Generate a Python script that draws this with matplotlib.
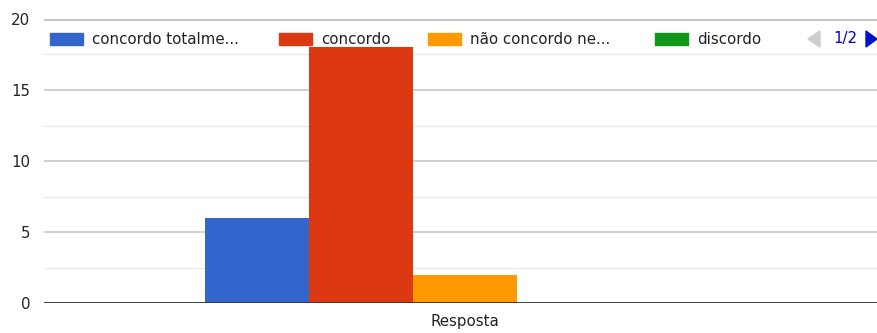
import matplotlib.pyplot as plt
from matplotlib.patches import Rectangle, Polygon

# answer counts per option (single category "Resposta")
categories = ["Resposta"]
series = ["concordo totalme...", "concordo", "não concordo ne...", "discordo", "discordo totalmente"]
counts = [6, 18, 2, 0, 0]
colors = ["#3366cc", "#dc3912", "#ff9900", "#109618", "#990099"]
yticks = [0, 5, 10, 15, 20]

plt.rcParams['font.family'] = ['DejaVu Sans']
FS = 10.8
TXT = "#222222"

fig = plt.figure(figsize=(8.77, 3.33), dpi=100)
W, H = 877, 333
ax = fig.add_axes([44 / W, 30 / H, 842 / W, 284 / H])

bw = 0.1233
n = len(series)
for i, (val, col) in enumerate(zip(counts, colors)):
    x = (i - (n - 1) / 2) * bw
    ax.bar(x, val, width=bw, color=col, zorder=3, linewidth=0)

ax.set_xlim(-0.5, 0.5)
ax.set_ylim(0, 20)
ax.set_xticks([0])
ax.set_xticklabels(categories, fontsize=FS, color=TXT)
ax.set_yticks(yticks)
ax.set_yticklabels([str(t) for t in yticks], fontsize=FS, color=TXT)
ax.tick_params(length=0)
ax.tick_params(axis='y', pad=10)
ax.tick_params(axis='x', pad=8)

# major and minor grid lines
for t in yticks[1:]:
    ax.axhline(t, color="#c8c8c8", lw=2.2 if t == 20 else 1.2, zorder=1)
for t in [2.5, 7.5, 12.5, 17.5]:
    ax.axhline(t, color="#e8e8e8", lw=1.0, zorder=1)
ax.axhline(0, color="#333333", lw=2.0, zorder=4)
for s in ax.spines.values():
    s.set_visible(False)

# legend row, first page only
leg_y = 1 - 39 / H
patch_x = [50, 279, 428, 655]
for name, col, px in zip(series[:4], colors[:4], patch_x):
    fig.patches.append(Rectangle((px / W, (H - 45) / H), 33 / W, 12 / H,
                                 transform=fig.transFigure, color=col))
    fig.text((px + 42) / W, leg_y, name, fontsize=FS, color=TXT,
             va="center", ha="left")

# pager arrows
fig.patches.append(Polygon([(820 / W, (H - 31) / H), (820 / W, (H - 47) / H), (808 / W, (H - 39) / H)],
                           closed=True, transform=fig.transFigure, color="#cccccc"))
fig.text(833 / W, leg_y, "1/2", fontsize=FS, color="#0000cc", va="center", ha="left")
fig.patches.append(Polygon([(866 / W, (H - 31) / H), (866 / W, (H - 47) / H), (877 / W, (H - 39) / H)],
                           closed=True, transform=fig.transFigure, color="#0011cc"))

fig.savefig("out.png", dpi=100)
